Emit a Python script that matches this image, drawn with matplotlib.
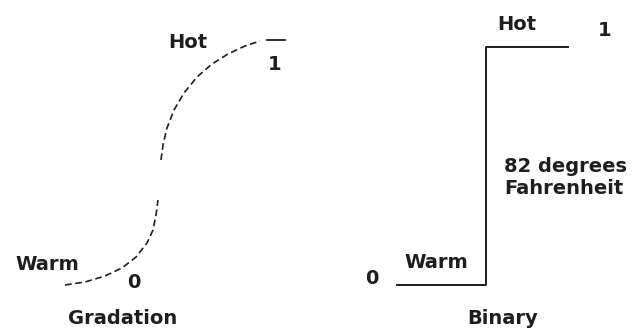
import matplotlib.pyplot as plt

plt.rcParams['font.family'] = ['DejaVu Sans']

# gradation curve (pixel space), lower and upper halves
low_x = [65, 85, 105, 122, 136, 147, 153, 156, 158]
low_y = [285, 282, 276, 268, 257, 243, 230, 215, 200]
up_x = [161, 163, 167, 174, 184, 197, 212, 228, 245, 260]
up_y = [160, 145, 128, 110, 93, 77, 64, 54, 46, 41]
cap_x = [267, 285]
cap_y = [40, 40]

# binary step
step_x = [397, 486, 486, 568]
step_y = [285, 285, 47, 47]

ink = '#1e1e1e'

fig = plt.figure(figsize=(6.32, 3.3), dpi=100)
ax = fig.add_axes([0, 0, 1, 1])
ax.set_xlim(0, 632)
ax.set_ylim(330, 0)
ax.axis('off')

ax.plot(low_x, low_y, color=ink, lw=1.2, ls=(0, (4, 2.2)))
ax.plot(up_x, up_y, color=ink, lw=1.2, ls=(0, (4, 2.2)))
ax.plot(cap_x, cap_y, color=ink, lw=1.3)
ax.plot(step_x, step_y, color=ink, lw=1.4)

fs = 14
txt = dict(color=ink, fontsize=fs, fontweight='bold', va='center')
ax.text(188, 43, 'Hot', ha='center', **txt)
ax.text(275, 65, '1', ha='center', **txt)
ax.text(47, 265, 'Warm', ha='center', **txt)
ax.text(134, 283, '0', ha='center', **txt)
ax.text(123, 318, 'Gradation', ha='center', **txt)

ax.text(517, 25, 'Hot', ha='center', **txt)
ax.text(605, 30, '1', ha='center', **txt)
ax.text(372, 278, '0', ha='center', **txt)
ax.text(436, 263, 'Warm', ha='center', **txt)
ax.text(504, 167, '82 degrees', ha='left', **txt)
ax.text(504, 189, 'Fahrenheit', ha='left', **txt)
ax.text(503, 319, 'Binary', ha='center', **txt)

fig.savefig('out.png', dpi=100)
